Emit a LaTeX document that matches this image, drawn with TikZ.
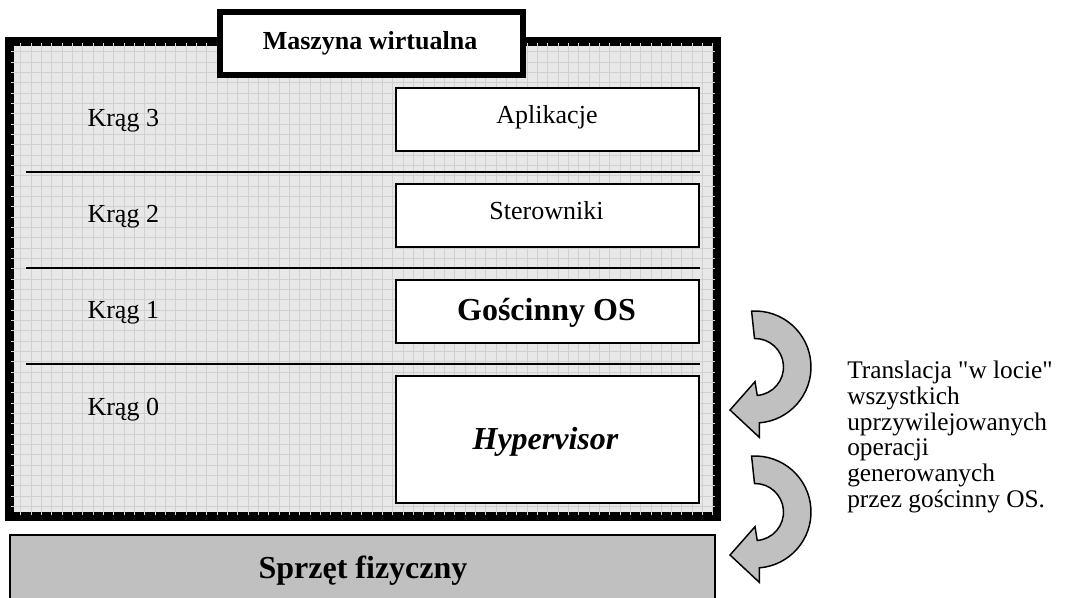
\documentclass[tikz,border=0pt]{standalone}
\usepackage{fontspec}
\setmainfont{Liberation Serif}[Ligatures=TeXOff]
\definecolor{gridbg}{HTML}{E8E8E8}
\definecolor{gridln}{HTML}{D0D0D0}
\definecolor{hwgray}{HTML}{C0C0C0}
\begin{document}
\begin{tikzpicture}[x=0.75pt,y=0.75pt,
  vmbox/.style={draw=black, line width=4.5pt, fill=gridbg, inner sep=0, minimum width=528pt, minimum height=354pt},
  titlebox/.style={draw=black, line width=4.5pt, fill=white, inner sep=0, minimum width=227.1pt, minimum height=47.5pt},
  layerbox/.style={draw=black, line width=1.5pt, fill=white, inner sep=0, minimum width=227.85pt},
  hwbox/.style={draw=black, line width=1.5pt, fill=hwgray, inner sep=0, minimum width=528.4pt, minimum height=63.4pt},
  ringsep/.style={line width=1.5pt},
  lbl/.style={inner sep=0, anchor=base, font=\fontsize{19.5}{22}\selectfont},
  ring/.style={inner sep=0, anchor=base west, font=\fontsize{19.5}{22}\selectfont},
  bigbold/.style={inner sep=0, anchor=base, font=\fontsize{24}{27}\selectfont\bfseries},
  curvarrow/.pic={
    \draw[line width=1.1pt, fill=hwgray, line join=miter]
      (93.5:42pt) arc[start angle=93.5, end angle=-85.5, radius=42pt]
      -- (4.3,-70.3) -- (-25,-43) -- (0,-14.7) -- (-85.5:21.375pt)
      arc[start angle=-85.5, end angle=91, radius=21.375pt] -- cycle;
  }]
\useasboundingbox (0,0) rectangle (1069,-597);

% virtual machine frame with grid fill
\node[vmbox] (vm) at (363,-279) {};
\begin{scope}
  \clip ([shift={(2.25pt,2.25pt)}]vm.south west) rectangle ([shift={(-2.25pt,-2.25pt)}]vm.north east);
  \draw[gridln, line width=0.45pt, step=10.33] (0,-530) grid (730,0);
\end{scope}
\draw[line width=4.5pt] (vm.south west) rectangle (vm.north east);

% title
\node[titlebox] (title) at (371.1,-43.35) {};
\node[inner sep=0, anchor=base, font=\fontsize{19.5}{22}\selectfont\bfseries] (titletxt) at (370,-49.3) {Maszyna wirtualna};

% separators
\coordinate (s1a) at (26,-171.5); \coordinate (s1b) at (700,-171.5);
\coordinate (s2a) at (26,-267.5); \coordinate (s2b) at (700,-267.5);
\coordinate (s3a) at (26,-363.5); \coordinate (s3b) at (700,-363.5);
\draw[ringsep] (s1a) -- (s1b);
\draw[ringsep] (s2a) -- (s2b);
\draw[ringsep] (s3a) -- (s3b);

% layer boxes
\node[layerbox, minimum height=47.25pt] (app) at (547.4,-119.5) {};
\node[layerbox, minimum height=46.9pt] (drv) at (547.4,-215.75) {};
\node[layerbox, minimum height=46.9pt] (gos) at (547.4,-311.75) {};
\node[layerbox, minimum height=95.6pt] (hyp) at (547.4,-439.75) {};

\node[lbl] (apptxt) at (547,-123.3) {Aplikacje};
\node[lbl] (drvtxt) at (546.5,-219) {Sterowniki};
\node[bigbold] (gostxt) at (546.5,-320.7) {Gościnny OS};
\node[bigbold, font=\fontsize{24}{27}\selectfont\bfseries\itshape] (hyptxt) at (545.5,-449) {Hypervisor};

% rings
\node[ring] (r3) at (87.3,-126) {Krąg 3};
\node[ring] (r2) at (87.3,-222) {Krąg 2};
\node[ring] (r1) at (87.3,-318.5) {Krąg 1};
\node[ring] (r0) at (87.3,-415) {Krąg 0};

% hardware
\node[hwbox] (hw) at (362.25,-577.75) {};
\node[bigbold] (hwtxt) at (363,-578) {Sprzęt fizyczny};

% curved arrows
\pic (arrA) at (755,-367) {curvarrow};
\pic (arrB) at (755,-512) {curvarrow};

% note
\node[anchor=north west, inner sep=0, align=left, font=\fontsize{19}{19.4}\selectfont] (note) at (847,-360.5)
  {Translacja "w locie"\\wszystkich\\uprzywilejowanych\\operacji\\generowanych\\przez gościnny OS.};
\end{tikzpicture}
\end{document}
